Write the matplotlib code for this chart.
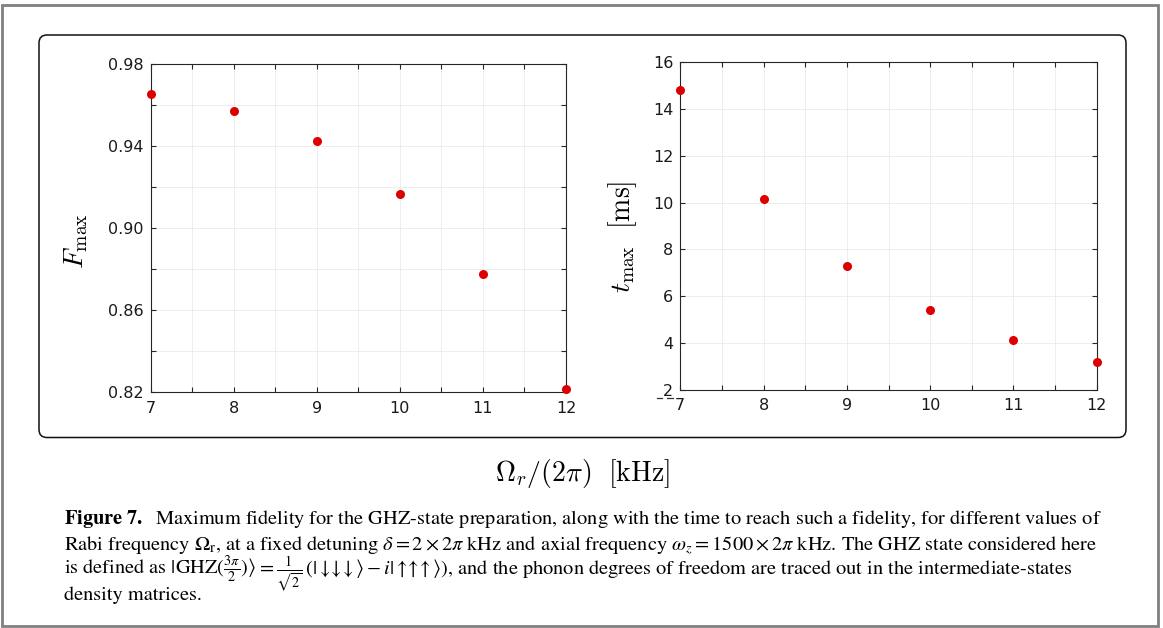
import numpy as np
import matplotlib
matplotlib.use("Agg")
import matplotlib.pyplot as plt
from matplotlib.patches import FancyBboxPatch, Rectangle
from matplotlib.lines import Line2D
from matplotlib.transforms import IdentityTransform

# data
rabi = [7, 8, 9, 10, 11, 12]
fidelity = [0.9655, 0.9574, 0.9428, 0.9165, 0.8775, 0.8216]
t_max = [14.79, 10.14, 7.30, 5.41, 4.12, 3.21]

caption1 = r"$\mathbf{Figure\ 7.}$  Maximum fidelity for the GHZ-state preparation, along with the time to reach such a fidelity, for different values of"
caption2 = r"Rabi frequency $\Omega_{\mathrm{r}}$, at a fixed detuning $\delta = 2 \times 2\pi$ kHz and axial frequency $\omega_z = 1500 \times 2\pi$ kHz. The GHZ state considered here"
caption3a = r"is defined as $|\mathrm{GHZ}(\frac{3\pi}{2})\rangle$"
caption3b = r"$= \frac{1}{\sqrt{2}}\,\left(|\downarrow\!\!\downarrow\!\!\downarrow\rangle - i|\uparrow\!\!\uparrow\!\!\uparrow\rangle\right)$, and the phonon degrees of freedom are traced out in the intermediate-states"
caption4 = r"density matrices."

W, H = 1163, 628
fig = plt.figure(figsize=(W / 100, H / 100), dpi=100)

def px(x, y):
    # pixel coords (top-left origin) -> figure fraction
    return x / W, 1 - y / H

def style_axes(ax):
    for s in ax.spines.values():
        s.set_color("#262626")
        s.set_linewidth(0.8)
    ax.tick_params(direction="in", length=3.5, width=0.8, top=True, right=True,
                   labelsize=11.5, colors="#262626", labelcolor="#1a1a1a")
    ax.tick_params(axis="x", pad=6)
    ax.tick_params(axis="y", pad=5)
    ax.grid(True, color="#ebebeb", linewidth=0.6)
    ax.set_axisbelow(True)
    ax.set_xlim(7, 12)
    xt = np.arange(7, 12.01, 0.5)
    ax.set_xticks(xt)
    ax.set_xticklabels([str(int(v)) if v == int(v) else "" for v in xt])

# left panel
ax1 = fig.add_axes([150.7 / W, 1 - 392.3 / H, (566 - 150.7) / W, (392.3 - 64.3) / H])
style_axes(ax1)
ax1.set_ylim(0.82, 0.98)
yt = np.round(np.arange(0.82, 0.9801, 0.02), 2)
ax1.set_yticks(yt)
ax1.set_yticklabels(["%.2f" % v if i % 2 == 0 else "" for i, v in enumerate(yt)])
ax1.plot(rabi, fidelity, "o", color="#dd0000", markersize=6.5, markeredgewidth=0,
         clip_on=False, zorder=3)

# right panel
ax2 = fig.add_axes([680.3 / W, 1 - 390 / H, (1096.7 - 680.3) / W, (390 - 62) / H])
style_axes(ax2)
ax2.set_ylim(2, 16)
ax2.set_yticks(np.arange(2, 16.1, 2))
ax2.plot(rabi, t_max, "o", color="#dd0000", markersize=6.5, markeredgewidth=0,
         clip_on=False, zorder=3)

# axis labels (LaTeX look)
fig.text(*px(76, 241), r"$F_{\max}$", rotation=90, ha="center", va="center",
         fontsize=20, math_fontfamily="cm")
fig.text(*px(623, 237), r"$t_{\max}\ \ [\mathrm{ms}]$", rotation=90, ha="center",
         va="center", fontsize=20, math_fontfamily="cm")
fig.text(*px(583, 473), r"$\Omega_r/(2\pi)\ \ [\mathrm{kHz}]$", ha="center",
         va="center", fontsize=20, math_fontfamily="cm")

# small stray dashes under the "2" label of the right panel
for x0, x1 in [(657, 662), (667, 673)]:
    fig.add_artist(Line2D([x0, x1], [H - 398, H - 398], transform=IdentityTransform(),
                          color="#333333", linewidth=0.9))

# rounded box around the plots and outer grey frame
box = FancyBboxPatch((39, H - 437.5), 1126 - 39, 437.5 - 35,
                     boxstyle="round,pad=0,rounding_size=8", transform=IdentityTransform(),
                     facecolor="none", edgecolor="#111111", linewidth=1.1)
fig.add_artist(box)
frame = Rectangle((2, 2), 1156, 621, transform=IdentityTransform(),
                  facecolor="none", edgecolor="#808080", linewidth=2)
fig.add_artist(frame)

# caption, first line fitted to its width in the picture
cap = dict(family="STIXGeneral", math_fontfamily="stix", va="baseline")
fs = 12.5
t1 = fig.text(*px(64, 524), caption1, fontsize=fs, **cap)
fig.canvas.draw()
fs = fs * 1040 / t1.get_window_extent().width
t1.set_fontsize(fs)
fig.text(*px(64, 551), caption2, fontsize=fs, **cap)
t3 = fig.text(*px(64, 575), caption3a, fontsize=fs, **cap)
fig.canvas.draw()
x3 = t3.get_window_extent().x1 + 1
fig.text(*px(x3, 575), caption3b, fontsize=fs, **cap)
fig.text(*px(64, 600), caption4, fontsize=fs, **cap)

fig.savefig("out.png", dpi=100)
